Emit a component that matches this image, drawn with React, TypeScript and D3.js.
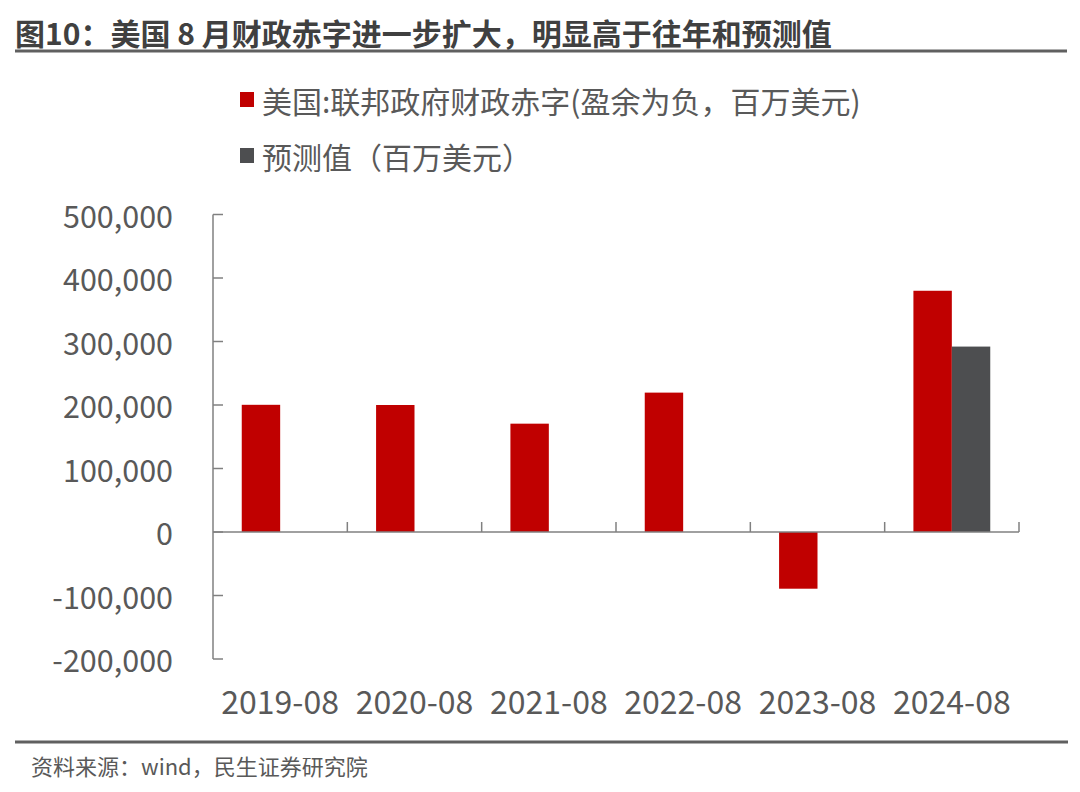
import React from "react";
import * as d3 from "d3";

const categories = ["2019-08", "2020-08", "2021-08", "2022-08", "2023-08", "2024-08"];
const deficitValues: (number | null)[] = [200300, 200000, 170600, 219500, -89300, 379900];
const forecastValues: (number | null)[] = [null, null, null, null, null, 292000];
const yTicks = [-200000, -100000, 0, 100000, 200000, 300000, 400000, 500000];
const seriesNames = ["美国:联邦政府财政赤字(盈余为负，百万美元)", "预测值（百万美元）"];
const seriesColors = ["#C00000", "#4D4E50"];

const W = 1080;
const H = 792;
const FONT = "'Noto Sans CJK SC', 'Noto Sans', sans-serif";

export default function App() {
  const left = 213;
  const right = 1019;
  const y = d3.scaleLinear().domain([-200000, 500000]).range([659, 214.5]);
  const x = d3.scaleBand<string>().domain(categories).range([left, right]).paddingInner(0).paddingOuter(0);
  const bw = x.bandwidth();
  const barW = bw * 0.286;
  const fmt = (v: number) => d3.format(",")(v).replace("\u2212", "-");
  const y0 = y(0);

  const series = [deficitValues, forecastValues];

  return (
    <svg width={W} height={H} style={{ position: "absolute", left: 0, top: 0, background: "#fff" }} fontFamily={FONT}>
      <rect x={0} y={0} width={W} height={H} fill="#fff" />
      {/* title */}
      <text x={15} y={45} fontSize={30} fontWeight="bold" fill="#404040">
        图10：美国 8 月财政赤字进一步扩大，明显高于往年和预测值
      </text>
      <line x1={15} x2={1067} y1={51} y2={51} stroke="#606060" strokeWidth={3} />

      {/* legend */}
      {seriesNames.map((name, i) => (
        <g key={name}>
          <rect x={240} y={92 + i * 56} width={14} height={15} fill={seriesColors[i]} />
          <text x={262} y={100 + i * 56} dominantBaseline="central" fontSize={30} fill="#595959">
            {name}
          </text>
        </g>
      ))}

      {/* y axis */}
      <line x1={left} x2={left} y1={y(500000)} y2={y(-200000)} stroke="#808080" strokeWidth={1.5} />
      {yTicks.map((t) => (
        <g key={t}>
          <line x1={left} x2={left + 10} y1={y(t)} y2={y(t)} stroke="#808080" strokeWidth={1.5} />
          <text x={173} y={y(t)} dominantBaseline="central" textAnchor="end" fontSize={30.5} fill="#595959">
            {fmt(t)}
          </text>
        </g>
      ))}

      {/* bars */}
      {categories.map((c, ci) =>
        series.map((s, si) => {
          const v = s[ci];
          if (v === null || v === undefined) return null;
          const cx = (x(c) as number) + bw / 2;
          const bx = cx - barW + si * barW;
          return (
            <rect
              key={c + si}
              x={bx}
              y={Math.min(y(v), y0)}
              width={barW}
              height={Math.abs(y(v) - y0)}
              fill={seriesColors[si]}
            />
          );
        })
      )}

      {/* x axis */}
      <line x1={left} x2={right} y1={y0} y2={y0} stroke="#808080" strokeWidth={1.5} />
      {categories.map((c) => (
        <line
          key={"t" + c}
          x1={(x(c) as number) + bw}
          x2={(x(c) as number) + bw}
          y1={y0}
          y2={y0 - 10}
          stroke="#808080"
          strokeWidth={1.5}
        />
      ))}
      {categories.map((c) => (
        <text
          key={"l" + c}
          x={(x(c) as number) + bw / 2}
          y={700}
          textAnchor="middle"
          dominantBaseline="central"
          fontSize={32}
          fill="#595959"
        >
          {c}
        </text>
      ))}

      {/* footer */}
      <line x1={15} x2={1068} y1={742} y2={742} stroke="#606060" strokeWidth={3} />
      <text x={31} y={765} dominantBaseline="central" fontSize={22} fill="#595959">
        资料来源：wind，民生证券研究院
      </text>
    </svg>
  );
}
